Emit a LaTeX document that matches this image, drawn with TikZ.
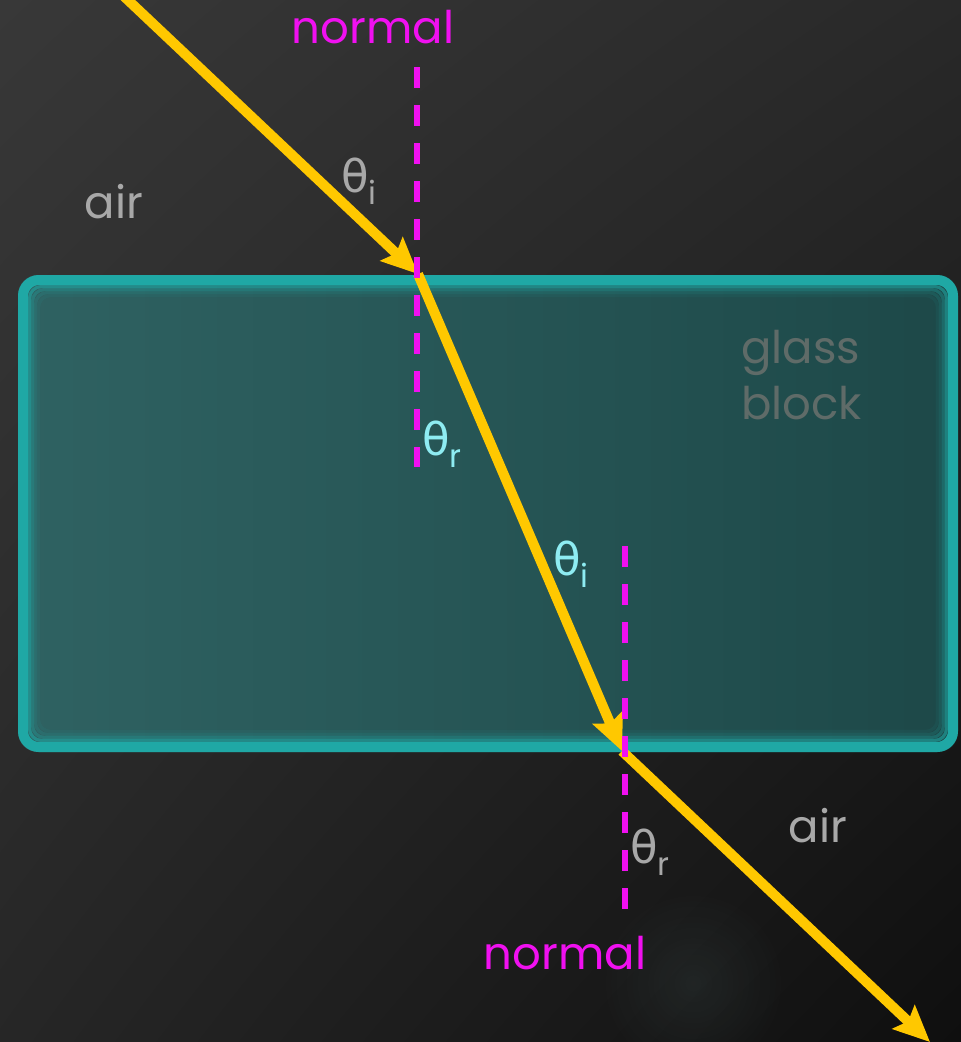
\documentclass[tikz,border=0pt]{standalone}
\usepackage{fontspec}
\setmainfont{Poppins}
\newfontfamily\grk{DejaVu Sans}
\usetikzlibrary{arrows.meta,positioning,shadings,fadings}
\definecolor{bgtl}{HTML}{383838}
\definecolor{bgbr}{HTML}{0F0F0F}
\definecolor{ray}{HTML}{FFC800}
\definecolor{norm}{HTML}{F010F0}
\definecolor{edge}{HTML}{1FA8A5}
\definecolor{glassl}{HTML}{2F6262}
\definecolor{glassr}{HTML}{1D4848}
\definecolor{txtgrey}{HTML}{A8A8A8}
\definecolor{txtcyan}{HTML}{8EECF2}
\definecolor{txtglass}{HTML}{5F6B68}
\tikzfading[name=glowfade,inner color=transparent!0,outer color=transparent!100]
\newcommand{\thsub}[1]{{\grk θ}\raisebox{-12pt}{\fontsize{32}{34}\selectfont #1}}

\begin{document}
\begin{tikzpicture}[x=1pt,y=-1pt,>={Stealth[length=36pt,width=32pt,inset=6pt]},
    lightray/.style={line width=10pt,ray},
    normline/.style={line width=6pt,norm,dash pattern=on 21pt off 17pt},
    lbl/.style={font=\fontsize{45}{56}\selectfont,inner sep=0pt}]
    \useasboundingbox (0,0) rectangle (961,1042);
    % background
    \shade[upper left=bgtl,upper right=black!84,lower left=black!85,lower right=bgbr]
      (0,0) rectangle (961,1042);
    \fill[edge!40!white,opacity=.07,path fading=glowfade] (693,983) circle (95);
    % glass block
    \shade[left color=glassl,right color=glassr,rounded corners=20pt] (18,275) rectangle (958,752);
    \draw[edge,line width=10pt,rounded corners=16pt] (23,280) rectangle (953,747);
    \foreach \d/\op in {11.5/.6,14.5/.35,17.5/.18,20.5/.08}
      \draw[edge,line width=3.2pt,opacity=\op,rounded corners=12pt]
        (18+\d,275+\d) rectangle (958-\d,752-\d);
    % ray path
    \coordinate (src) at (112,-15);
    \coordinate (p1) at (418,274);
    \coordinate (p2) at (622,751);
    \coordinate (dst) at (930,1042);
    \draw[lightray,->] (src) -- (p1);
    \draw[lightray,->] (p1) -- (p2);
    \draw[lightray,->] (p2) -- (dst);
    % normals
    \coordinate (n1top) at (417,67);
    \coordinate (n1bot) at (417,467);
    \coordinate (n2top) at (625,546);
    \coordinate (n2bot) at (625,910);
    \draw[normline] (n1top) -- (n1bot);
    \draw[normline] (n2top) -- (n2bot);
    % labels
    \node[lbl,norm,anchor=base] (normtop) at (373,43) {normal};
    \node[lbl,norm,anchor=base] (normbot) at (565,969) {normal};
    \node[lbl,txtgrey,anchor=base] (airtop) at (114,218) {air};
    \node[lbl,txtgrey,anchor=base] (airbot) at (818,842) {air};
    \node[lbl,txtglass,anchor=base west,align=left] (glass) at (741,419) {glass\\block};
    \node[lbl,txtgrey,anchor=base west] (thi1) at (341,192) {\thsub{i}};
    \node[lbl,txtcyan,anchor=base west] (thr1) at (422,455) {\thsub{r}};
    \node[lbl,txtcyan,anchor=base west] (thi2) at (553,575) {\thsub{i}};
    \node[lbl,txtgrey,anchor=base west] (thr2) at (630,863) {\thsub{r}};
\end{tikzpicture}
\end{document}
